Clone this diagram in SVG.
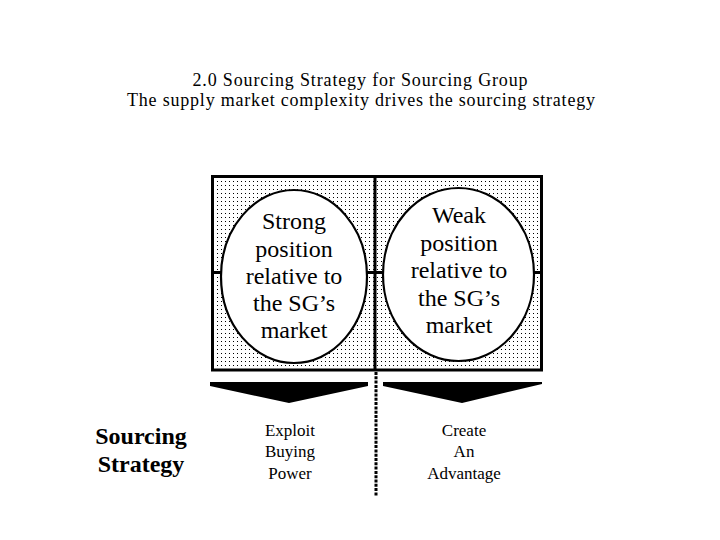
<svg xmlns="http://www.w3.org/2000/svg" width="720" height="540" viewBox="0 0 720 540">
<style>
text{font-family:"Liberation Serif","Times New Roman",Times,serif;fill:#000;text-anchor:middle}
.title{font-size:18px}
.oval{font-size:24px}
.lbl{font-size:17px}
.side{font-size:24px;font-weight:bold}
.frame{fill:url(#dots);stroke:#000;stroke-width:3}
.ell{fill:#fff;stroke:#000;stroke-width:2.2}
.thick{stroke:#000;stroke-width:3;fill:none}
</style>
<defs>
<pattern id="dots" width="4" height="4" patternUnits="userSpaceOnUse">
<rect width="4" height="4" fill="#fff"/>
<rect x="1" y="1" width="1" height="1" fill="#000"/>
</pattern>
</defs>
<rect width="720" height="540" fill="#fff"/>
<g id="title">
<text class="title" x="360" y="85.5" textLength="335" lengthAdjust="spacing">2.0 Sourcing Strategy for Sourcing Group</text>
<text class="title" x="361" y="105.5" textLength="468" lengthAdjust="spacing">The supply market complexity drives the sourcing strategy</text>
</g>
<g id="matrix">
<rect class="frame" x="212.5" y="176.5" width="329" height="193.5"/>
<line class="thick" x1="375" y1="176.5" x2="375" y2="370"/>
<line class="thick" x1="212.5" y1="272.5" x2="541.5" y2="272.5"/>
</g>
<g id="connectors">
<line x1="376" y1="372" x2="376" y2="496" stroke="#000" stroke-width="3" stroke-dasharray="3,1.3"/>
<polygon points="210,382 368,382 368,386 289,403 210,386" fill="#000"/>
<polygon points="383,382 542,382 542,384 462,403 383,386" fill="#000"/>
</g>
<g id="strong">
<ellipse class="ell" cx="294" cy="276.5" rx="73" ry="86.5"/>
<text class="oval" x="294" y="229">Strong</text>
<text class="oval" x="294" y="256.5">position</text>
<text class="oval" x="294" y="283.75">relative to</text>
<text class="oval" x="294" y="311">the SG’s</text>
<text class="oval" x="294" y="338">market</text>
</g>
<g id="weak">
<ellipse class="ell" cx="458.5" cy="274.5" rx="75.5" ry="86.5"/>
<text class="oval" x="459" y="223">Weak</text>
<text class="oval" x="459" y="250.5">position</text>
<text class="oval" x="459" y="278">relative to</text>
<text class="oval" x="459" y="305.5">the SG’s</text>
<text class="oval" x="459" y="333">market</text>
</g>
<g id="sourcing-strategy">
<text class="side" x="141" y="443.5">Sourcing</text>
<text class="side" x="141" y="471.5">Strategy</text>
</g>
<g id="exploit">
<text class="lbl" x="290" y="435.5">Exploit</text>
<text class="lbl" x="290" y="457">Buying</text>
<text class="lbl" x="290" y="479">Power</text>
</g>
<g id="create">
<text class="lbl" x="464" y="435.5">Create</text>
<text class="lbl" x="464" y="457">An</text>
<text class="lbl" x="464" y="479">Advantage</text>
</g>
</svg>
